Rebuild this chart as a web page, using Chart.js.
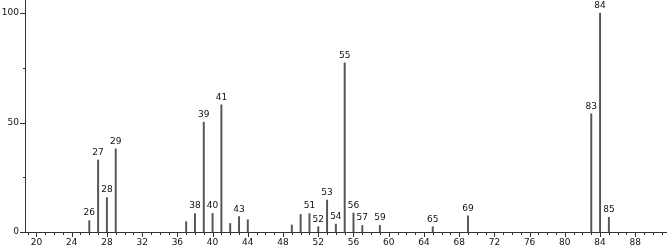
<!DOCTYPE html>
<html>
<head>
<meta charset="utf-8">
<script src="https://cdn.jsdelivr.net/npm/chart.js@4/dist/chart.umd.min.js"></script>
<style>
  html, body { margin: 0; padding: 0; background: #fff; }
  #wrap { width: 667px; height: 249px; }
</style>
</head>
<body>
<div id="wrap"><canvas id="spec"></canvas></div>
<script>
// m/z values and relative intensities
const mz = [26, 27, 28, 29, 37, 38, 39, 40, 41, 42, 43, 44, 49, 50, 51, 52, 53, 54, 55, 56, 57, 59, 65, 69, 83, 84, 85];
const intensity = [5.2, 32.9, 15.7, 38.0, 4.7, 8.4, 50.2, 8.5, 58.1, 3.9, 7.0, 5.6, 3.2, 8.0, 8.4, 2.4, 14.6, 3.6, 77.3, 8.7, 3.0, 3.0, 2.4, 7.4, 54.0, 100, 6.7];
// peaks that carry an m/z label
const labelled = [26, 27, 28, 29, 38, 39, 40, 41, 43, 51, 52, 53, 54, 55, 56, 57, 59, 65, 69, 83, 84, 85];
const yTickLabels = [0, 50, 100];

const font = '9px "DejaVu Sans", sans-serif';

// draws the m/z over each labelled peak, and the minor/major tick marks
const peakLabels = {
    id: 'peakLabels',
    afterDatasetsDraw(chart) {
        const ctx = chart.ctx;
        const meta = chart.getDatasetMeta(0);
        ctx.save();
        ctx.font = font;
        ctx.fillStyle = '#111';
        ctx.textAlign = 'center';
        ctx.textBaseline = 'bottom';
        meta.data.forEach((bar, i) => {
            if (labelled.includes(mz[i])) {
                ctx.fillText(String(mz[i]), bar.x, bar.y - 3);
            }
        });
        ctx.restore();
    },
    afterDraw(chart) {
        const ctx = chart.ctx;
        const xs = chart.scales.x, ys = chart.scales.y;
        const base = ys.getPixelForValue(0);
        ctx.save();
        ctx.strokeStyle = '#333';
        ctx.lineWidth = 1;
        ctx.beginPath();
        for (let v = Math.ceil(xs.min); v <= xs.max; v++) {
            const px = Math.round(xs.getPixelForValue(v)) + 0.5;
            const len = v % 4 === 0 ? 5 : 3;
            ctx.moveTo(px, base);
            ctx.lineTo(px, base + len);
        }
        const left = xs.left;
        [0, 25, 50, 75, 100].forEach(v => {
            const py = Math.round(ys.getPixelForValue(v)) + 0.5;
            ctx.moveTo(left, py);
            ctx.lineTo(left - (v % 50 === 0 ? 5 : 2), py);
        });
        ctx.stroke();
        ctx.restore();
    }
};

new Chart(document.getElementById('spec'), {
    type: 'bar',
    data: {
        datasets: [{
            data: mz.map((m, i) => ({ x: m, y: intensity[i] })),
            backgroundColor: '#555',
            barThickness: 1.3,
            borderWidth: 0
        }]
    },
    options: {
        responsive: true,
        maintainAspectRatio: false,
        animation: false,
        layout: { padding: 0 },
        plugins: {
            legend: { display: false },
            tooltip: { enabled: false }
        },
        scales: {
            x: {
                type: 'linear',
                offset: false,
                min: 18.7,
                max: 91.6,
                afterFit(scale) {
                    scale.height = 17;
                    scale.paddingLeft = 0;
                    scale.paddingRight = 0;
                },
                grid: { display: false, drawTicks: false, tickLength: 0 },
                border: { display: true, color: '#333', width: 1 },
                ticks: {
                    stepSize: 4,
                    includeBounds: false,
                    autoSkip: false,
                    maxRotation: 0,
                    padding: 5,
                    color: '#111',
                    font: { family: '"DejaVu Sans", sans-serif', size: 9 }
                }
            },
            y: {
                min: 0,
                max: 106,
                afterFit(scale) {
                    scale.width = 25;
                    scale.paddingTop = 0;
                    scale.paddingBottom = 0;
                },
                afterBuildTicks(scale) {
                    scale.ticks = yTickLabels.map(v => ({ value: v }));
                },
                grid: { display: false, drawTicks: false, tickLength: 0 },
                border: { display: true, color: '#333', width: 1 },
                ticks: {
                    padding: 6,
                    color: '#111',
                    font: { family: '"DejaVu Sans", sans-serif', size: 9 }
                }
            }
        }
    },
    plugins: [peakLabels]
});
</script>
</body>
</html>
